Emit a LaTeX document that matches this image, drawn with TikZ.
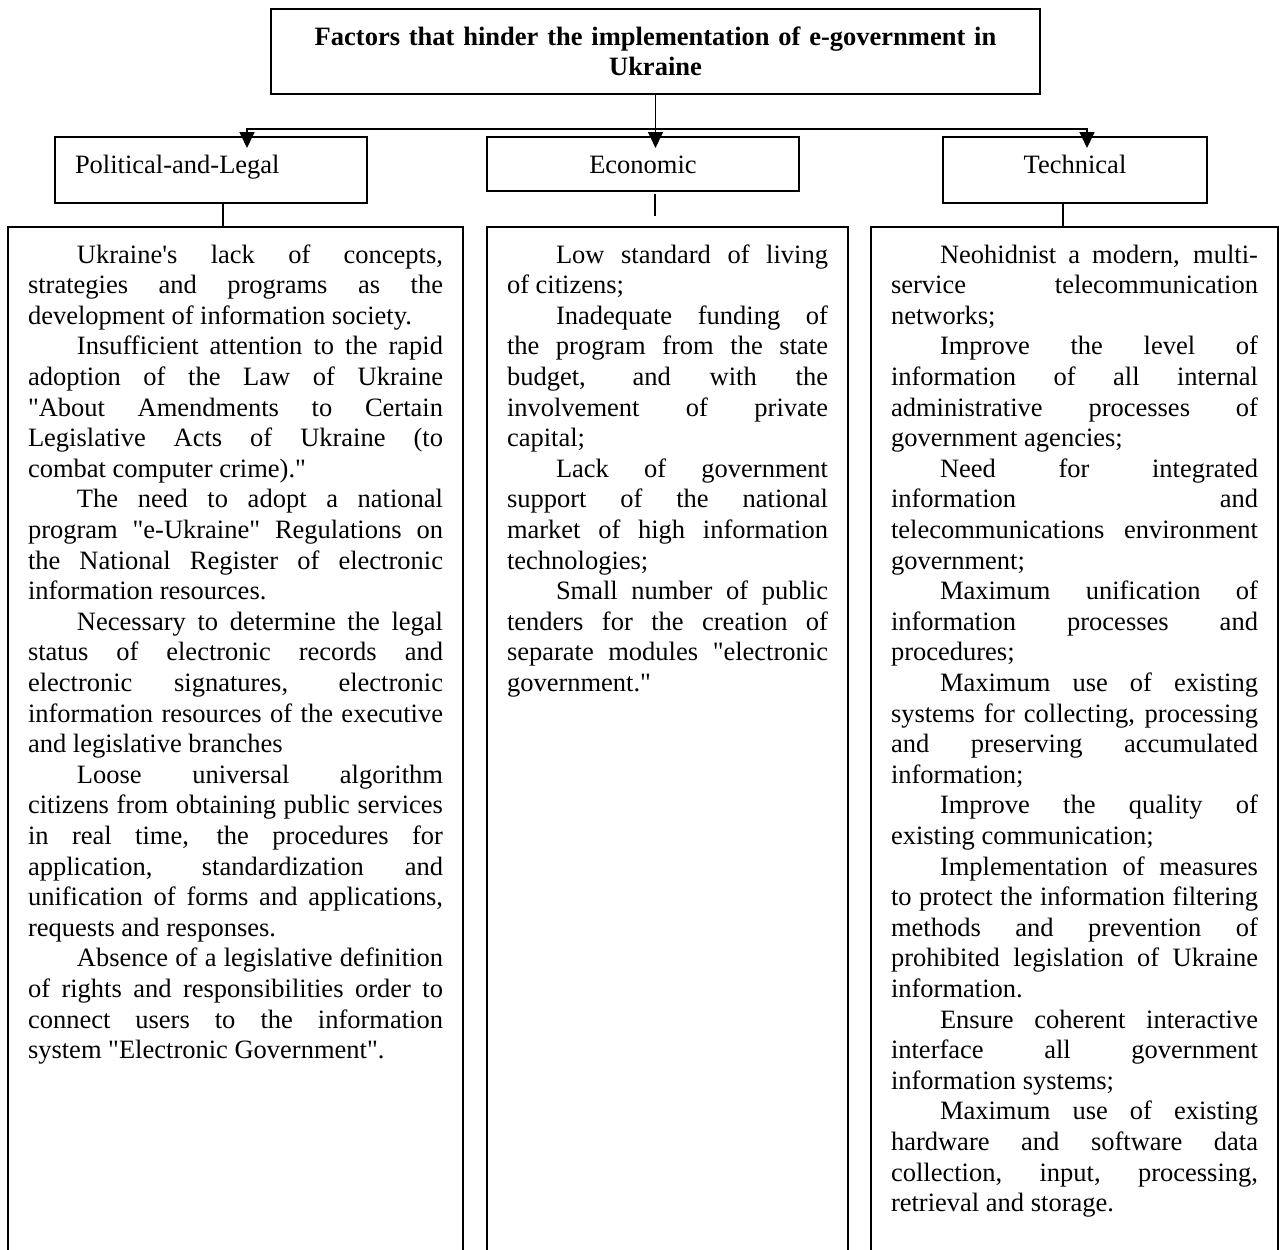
\documentclass[tikz,border=0pt]{standalone}
\usepackage{fontspec}
\setmainfont{Liberation Serif}[Ligatures=TeXOff]
\usetikzlibrary{arrows.meta,positioning}
\tolerance=10000
\hbadness=10000
\hyphenpenalty=10000
\exhyphenpenalty=10000
\newcommand{\ind}{\hspace*{24.5pt}}
\newcommand{\npar}{\par\ind}

\begin{document}
\begin{tikzpicture}[
			x=0.5pt,y=-0.5pt,
			font=\fontsize{13.25}{15.3}\selectfont,
			box/.style={
				draw,
				line width=1pt,
				inner sep=0pt
			},
			head/.style={box,minimum height=33pt,text height=9pt,text depth=6pt},
			list/.style={
				box,
				anchor=north,
				align=justify,
				inner xsep=10pt,
				inner ysep=8.5pt,
				text height=9.5pt,
				text depth=495pt
			},
			link/.style={line width=0.75pt},
			arrow/.style={link,-{Triangle[length=8pt,width=7.5pt]},shorten >=-6pt}
			]
			\useasboundingbox (0,0) rectangle (1279,1249);
			
			\node[box,minimum width=384.5pt,minimum height=42.5pt,text width=350pt,align=center,
				font=\fontsize{13.25}{15}\selectfont\bfseries] (title) at (655.5,51.5)
			{Factors that hinder the implementation of e-government in\\ Ukraine};
			
			\node[head,text width=136pt,inner xsep=10pt,align=left] (polit) at (211,170) {Political-and-Legal};
			\node[head,minimum width=156pt,minimum height=27pt,text depth=0pt] (econ) at (643,164) {Economic};
			\node[head,minimum width=132pt] (tech) at (1075,170) {Technical};
			
			% arrows from the title
			\coordinate (split) at ([yshift=-17pt]title.south);
			\draw[arrow] (title.south) -- (title.south |- econ.north);
			\draw[arrow] (split) -| ([xshift=18pt]polit.north);
			\draw[arrow] (split) -| ([xshift=6pt]tech.north);
			
			\node[list,text width=207.5pt] (lawtext) at (235.5,226)
			{\ind Ukraine's lack of concepts,\linebreak strategies and programs as the\linebreak development of information society.
			\npar Insufficient attention to the rapid\linebreak adoption of the Law of Ukraine\linebreak "About Amendments to Certain\linebreak Legislative Acts of Ukraine (to\linebreak combat computer crime)."
			\npar The need to adopt a national\linebreak program "e-Ukraine" Regulations on\linebreak the National Register of electronic\linebreak information resources.
			\npar Necessary to determine the legal\linebreak status of electronic records and\linebreak electronic signatures, electronic\linebreak information resources of the executive\linebreak and legislative branches
			\npar Loose universal algorithm\linebreak citizens from obtaining public services\linebreak in real time, the procedures for\linebreak application, standardization and\linebreak unification of forms and applications,\linebreak requests and responses.
			\npar Absence of a legislative definition\linebreak of rights and responsibilities order to\linebreak connect users to the information\linebreak system "Electronic Government".};
			
			\node[list,text width=160.5pt] (ecotext) at (667.5,226)
			{\ind Low standard of living\linebreak of citizens;
			\npar Inadequate funding of\linebreak the program from the state\linebreak budget, and with the\linebreak involvement of private\linebreak capital;
			\npar Lack of government\linebreak support of the national\linebreak market of high information\linebreak technologies;
			\npar Small number of public\linebreak tenders for the creation of\linebreak separate modules "electronic\linebreak government."};
			
			\node[list,text width=183.5pt] (techtext) at (1074.5,226)
			{\ind Neohidnist a modern, multi-\linebreak service telecommunication\linebreak networks;
			\npar Improve the level of\linebreak information of all internal\linebreak administrative processes of\linebreak government agencies;
			\npar Need for integrated\linebreak information and\linebreak telecommunications environment\linebreak government;
			\npar Maximum unification of\linebreak information processes and\linebreak procedures;
			\npar Maximum use of existing\linebreak systems for collecting, processing\linebreak and preserving accumulated\linebreak information;
			\npar Improve the quality of\linebreak existing communication;
			\npar Implementation of measures\linebreak to protect the information filtering\linebreak methods and prevention of\linebreak prohibited legislation of Ukraine\linebreak information.
			\npar Ensure coherent interactive\linebreak interface all government\linebreak information systems;
			\npar Maximum use of existing\linebreak hardware and software data\linebreak collection, input, processing,\linebreak retrieval and storage.};
			
			\draw[link] ([xshift=6pt]polit.south) -- ([xshift=6pt]polit.south |- lawtext.north);
			\draw[link,shorten <=1pt,shorten >=5pt] ([xshift=6pt]econ.south) -- ([xshift=6pt]econ.south |- ecotext.north);
			\draw[link] ([xshift=-6pt]tech.south) -- ([xshift=-6pt]tech.south |- techtext.north);
			
		\end{tikzpicture}
\end{document}
